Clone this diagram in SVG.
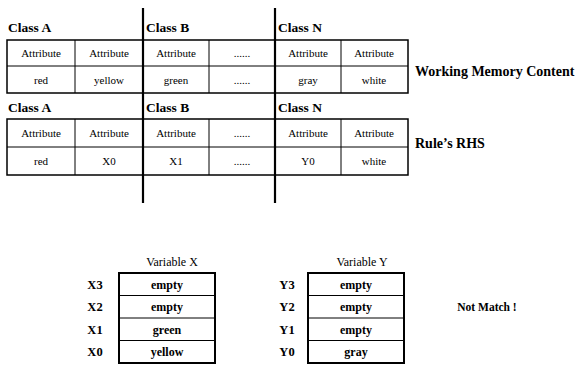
<svg xmlns="http://www.w3.org/2000/svg" width="582" height="385" viewBox="0 0 582 385">
<style>
text{font-family:'Times New Roman',Tinos,'Liberation Serif','Noto Serif','DejaVu Serif',serif;fill:#000}
.cls{font-size:13.5px;font-weight:bold}
.cell{font-size:11px;text-anchor:middle}
.lbl{font-size:14px;font-weight:bold}
.vt{font-size:12px;text-anchor:middle}
.vc{font-size:12px;font-weight:bold;text-anchor:middle}
.vl{font-size:12.5px;font-weight:bold;text-anchor:middle}
.tb{fill:none;stroke:#000;stroke-width:1.5}
.ln{stroke:#000;stroke-width:1}
.thick{stroke:#000;stroke-width:2.2}
.vb{fill:none;stroke:#000;stroke-width:2}
</style>
<g id="connectors">
<line class="thick" x1="143" y1="8" x2="143" y2="203"/>
<line class="thick" x1="275" y1="8" x2="275" y2="203"/>
</g>
<g id="wm-table">
<text class="cls" x="8" y="32">Class A</text>
<text class="cls" x="146" y="32">Class B</text>
<text class="cls" x="278" y="32">Class N</text>
<rect class="tb" x="7" y="40" width="401" height="53"/>
<line class="ln" x1="7" y1="66" x2="408" y2="66"/>
<line class="ln" x1="75" y1="40" x2="75" y2="93"/>
<line class="ln" x1="209" y1="40" x2="209" y2="93"/>
<line class="ln" x1="341" y1="40" x2="341" y2="93"/>
<text class="cell" x="41" y="57">Attribute</text>
<text class="cell" x="109" y="57">Attribute</text>
<text class="cell" x="176" y="57">Attribute</text>
<text class="cell" x="242" y="57">......</text>
<text class="cell" x="308" y="57">Attribute</text>
<text class="cell" x="374" y="57">Attribute</text>
<text class="cell" x="41" y="84">red</text>
<text class="cell" x="109" y="84">yellow</text>
<text class="cell" x="176" y="84">green</text>
<text class="cell" x="242" y="84">......</text>
<text class="cell" x="308" y="84">gray</text>
<text class="cell" x="374" y="84">white</text>
<text class="lbl" x="415" y="76">Working Memory Content</text>
</g>
<g id="rhs-table">
<text class="cls" x="8" y="112">Class A</text>
<text class="cls" x="146" y="112">Class B</text>
<text class="cls" x="278" y="112">Class N</text>
<rect class="tb" x="7" y="119" width="401" height="56"/>
<line class="ln" x1="7" y1="147" x2="408" y2="147"/>
<line class="ln" x1="75" y1="119" x2="75" y2="175"/>
<line class="ln" x1="209" y1="119" x2="209" y2="175"/>
<line class="ln" x1="341" y1="119" x2="341" y2="175"/>
<text class="cell" x="41" y="137">Attribute</text>
<text class="cell" x="109" y="137">Attribute</text>
<text class="cell" x="176" y="137">Attribute</text>
<text class="cell" x="242" y="137">......</text>
<text class="cell" x="308" y="137">Attribute</text>
<text class="cell" x="374" y="137">Attribute</text>
<text class="cell" x="41" y="165">red</text>
<text class="cell" x="109" y="165">X0</text>
<text class="cell" x="176" y="165">X1</text>
<text class="cell" x="242" y="165">......</text>
<text class="cell" x="308" y="165">Y0</text>
<text class="cell" x="374" y="165">white</text>
<text class="lbl" x="415" y="148">Rule’s RHS</text>
</g>
<g id="var-x">
<text class="vt" x="172" y="266">Variable X</text>
<rect class="vb" x="119" y="273" width="96" height="90"/>
<line class="ln" x1="119" y1="295.5" x2="215" y2="295.5"/>
<line class="ln" x1="119" y1="318" x2="215" y2="318"/>
<line class="ln" x1="119" y1="340.5" x2="215" y2="340.5"/>
<text class="vc" x="167" y="289">empty</text>
<text class="vc" x="167" y="311">empty</text>
<text class="vc" x="167" y="334">green</text>
<text class="vc" x="167" y="356">yellow</text>
<text class="vl" x="95" y="289">X3</text>
<text class="vl" x="95" y="311">X2</text>
<text class="vl" x="95" y="334">X1</text>
<text class="vl" x="95" y="356">X0</text>
</g>
<g id="var-y">
<text class="vt" x="362" y="266">Variable Y</text>
<rect class="vb" x="308" y="273" width="96" height="90"/>
<line class="ln" x1="308" y1="295.5" x2="404" y2="295.5"/>
<line class="ln" x1="308" y1="318" x2="404" y2="318"/>
<line class="ln" x1="308" y1="340.5" x2="404" y2="340.5"/>
<text class="vc" x="356" y="289">empty</text>
<text class="vc" x="356" y="311">empty</text>
<text class="vc" x="356" y="334">empty</text>
<text class="vc" x="356" y="356">gray</text>
<text class="vl" x="287" y="289">Y3</text>
<text class="vl" x="287" y="311">Y2</text>
<text class="vl" x="287" y="334">Y1</text>
<text class="vl" x="287" y="356">Y0</text>
</g>
<g id="result">
<text class="lbl" x="487" y="311" style="font-size:11.5px;text-anchor:middle">Not Match !</text>
</g>
</svg>
